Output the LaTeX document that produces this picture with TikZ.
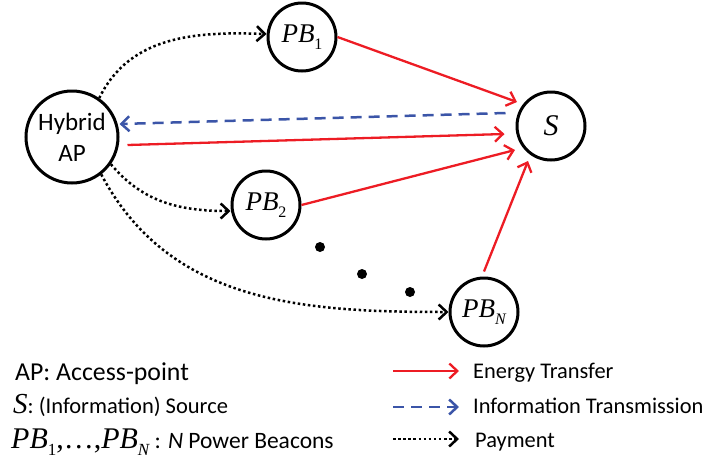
\documentclass[tikz,border=0pt]{standalone}
\usepackage{fontspec}
\setmainfont{Carlito}
\newfontfamily\tnr{Liberation Serif}
\usetikzlibrary{arrows.meta}
\definecolor{ered}{RGB}{237,28,36}
\definecolor{iblue}{RGB}{59,85,168}
\newcommand{\pbsub}[2]{{\tnr\itshape PB}\raisebox{-0.24em}{\tnr\fontsize{#2}{#2}\selectfont #1}}
\begin{document}
\begin{tikzpicture}[x=1pt,y=1pt,
  nd/.style={circle,draw,line width=3pt,inner sep=0pt},
  tip/.style={-{Straight Barb[length=8pt,width=15pt]}},
  energy/.style={tip,draw=ered,line width=2.3pt},
  info/.style={tip,draw=iblue,line width=2.5pt,dash pattern=on 11pt off 7pt},
  pay/.style={tip,draw=black,line width=2.5pt,dash pattern=on 2.5pt off 2.6pt},
  lbl/.style={anchor=base west,inner sep=0pt}]
\useasboundingbox (0,0) rectangle (705,-459);
% nodes
\node[nd,minimum size=92pt,align=center,font=\fontsize{25}{31}\selectfont] (AP) at (72,-137) {Hybrid\\AP};
\node[nd,minimum size=68pt,font=\fontsize{27}{27}\selectfont] (PB1) at (302,-37) {\pbsub{1}{16}};
\node[nd,minimum size=68pt,font=\fontsize{27}{27}\selectfont] (PB2) at (266,-205) {\pbsub{2}{16}};
\node[nd,minimum size=68pt,font=\fontsize{27}{27}\selectfont] (PBN) at (484,-312) {\pbsub{\itshape N}{16}};
\node[nd,minimum size=68pt,font=\fontsize{30}{30}\selectfont] (S) at (551,-126) {\tnr\itshape S};
% dots
\fill (320,-247) circle (5);
\fill (362,-274) circle (5);
\fill (410,-292) circle (5);
% energy transfer
\draw[energy] (PB1.east) -- ([shift={(-34,24)}]S.center);
\draw[energy] ([shift={(8,-8)}]AP.east) -- ([shift={(-11,-8)}]S.west);
\draw[energy] (PB2.east) -- ([shift={(-36,-24)}]S.center);
\draw[energy] ([yshift=5pt]PBN.north) -- ([shift={(-23,-35)}]S.center);
% information
\draw[info] ([shift={(-10,13)}]S.west) -- ([yshift=13pt]AP.east);
% payment
\draw[pay] (AP.55) to[out=64,in=178] ([yshift=3pt]PB1.west);
\draw[pay] (AP.-35) to[out=-50,in=180] ([yshift=-6pt]PB2.west);
\draw[pay] (AP.-52) to[out=-62,in=180] (PBN.west);
% legend
\coordinate (l1a) at (393,-371); \coordinate (l1b) at (459,-371);
\coordinate (l2a) at (393,-407); \coordinate (l2b) at (459,-407);
\coordinate (l3a) at (393,-439); \coordinate (l3b) at (459,-439);
\draw[energy] (l1a) -- (l1b);
\draw[info] (l2a) -- (l2b);
\draw[pay] (l3a) -- (l3b);
\node[lbl,font=\fontsize{22.4}{22}\selectfont] (t1) at (473,-378) {Energy Transfer};
\node[lbl,font=\fontsize{22.4}{22}\selectfont] (t2) at (473,-413) {Information Transmission};
\node[lbl,font=\fontsize{22.4}{22}\selectfont] (t3) at (475,-447) {Payment};
\node[lbl,font=\fontsize{25.8}{26}\selectfont] (k1) at (15,-380) {AP: Access-point};
\node[lbl,font=\fontsize{22.5}{22}\selectfont] (k2) at (13,-413) {{\tnr\itshape\fontsize{29}{29}\selectfont S}: (Information) Source};
\node[lbl,font=\fontsize{23.5}{23}\selectfont] (k3) at (11,-448) {{\fontsize{30}{30}\selectfont\pbsub{1}{17}{\tnr ,\ldots,}\pbsub{\itshape N}{17}} : \textit{N} Power Beacons};
\end{tikzpicture}
\end{document}
